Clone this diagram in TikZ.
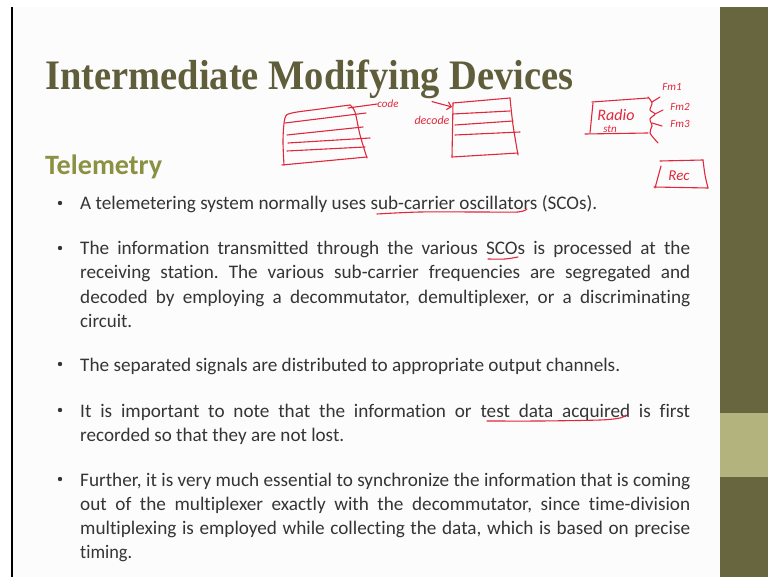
\documentclass[tikz,border=0pt]{standalone}
\usepackage{fontspec}
\usepackage{graphicx}
\setmainfont[RawFeature=-liga]{Carlito}
\newfontfamily\titlefont{Liberation Serif}
\usetikzlibrary{arrows.meta}

\definecolor{slidebg}{HTML}{FCFCFC}
\definecolor{olivedark}{HTML}{68663F}
\definecolor{olivelight}{HTML}{B3B47D}
\definecolor{titlecol}{HTML}{5F5D3A}
\definecolor{subcol}{HTML}{8A9142}
\definecolor{bodycol}{HTML}{353535}
\definecolor{ink}{HTML}{E0283C}

% one justified line of body text set to a given width:
% spaces are stretched when it is short, the line is condensed when it is long
\newsavebox\linebox
\newcommand\tline[2]{\sbox\linebox{#2}%
  \ifdim\wd\linebox>#1\relax\resizebox{#1}{\ht\linebox}{\usebox\linebox}%
  \else\makebox[#1][s]{#2}\fi}
% closing line of a paragraph: natural spacing, scaled to the given width
\newcommand\fline[2]{\sbox\linebox{#2}\resizebox{#1}{\ht\linebox}{\usebox\linebox}}

\tikzset{
  bodyline/.style={anchor=base west, inner sep=0pt, text=bodycol, yshift=-2pt,
    font=\frenchspacing\fontsize{19.2}{24}\selectfont},
  bulletdot/.style={fill=bodycol},
  pen/.style={draw=ink, line width=1.1pt, line cap=round, line join=round},
  scrawl/.style={text=ink, inner sep=0pt, font=\itshape\fontsize{11}{11}\selectfont},
}

\begin{document}
\begin{tikzpicture}[x=1pt,y=-1pt]
\useasboundingbox (0,0) rectangle (768,577);
\fill[white] (0,0) rectangle (768,577);
\fill[slidebg] (12,7) rectangle (720,577);
% side bar
\fill[olivedark] (720,7) rectangle (768,577);
\fill[olivelight] (720,413) rectangle (768,477);
\draw[black, line width=1.5pt] (12,7) -- (12,577);

% headings
\node[anchor=base west, inner sep=0pt, text=titlecol] (title) at (45,90)
  {\resizebox{528pt}{\height}{\titlefont\bfseries\fontsize{42}{42}\selectfont Intermediate Modifying Devices}};
\node[anchor=base west, inner sep=0pt, text=subcol] (sub) at (45,175)
  {\resizebox{117pt}{\height}{\bfseries\fontsize{28}{28}\selectfont Telemetry}};

% bullets
\foreach \y in {210,255,371,417,486} \fill[bulletdot] (60,\y-7) circle (2.2);

\node[bodyline] (b1) at (80,208) {\fline{517pt}{A telemetering system normally uses sub-carrier oscillators (SCOs).}};

\node[bodyline] (b2a) at (80,253) {\tline{610pt}{The information transmitted through the various SCOs is processed at the}};
\node[bodyline] (b2b) at (80,277) {\tline{610pt}{receiving station. The various sub-carrier frequencies are segregated and}};
\node[bodyline] (b2c) at (80,301) {\tline{610pt}{decoded by employing a decommutator, demultiplexer, or a discriminating}};
\node[bodyline] (b2d) at (80,325) {\fline{52pt}{circuit.}};

\node[bodyline] (b3) at (80,369) {\fline{540pt}{The separated signals are distributed to appropriate output channels.}};

\node[bodyline] (b4a) at (80,415) {\tline{610pt}{It is important to note that the information or test data acquired is first}};
\node[bodyline] (b4b) at (80,439) {\fline{264pt}{recorded so that they are not lost.}};

\node[bodyline] (b5a) at (80,484) {\tline{610pt}{Further, it is very much essential to synchronize the information that is coming}};
\node[bodyline] (b5b) at (80,508) {\tline{610pt}{out of the multiplexer exactly with the decommutator, since time-division}};
\node[bodyline] (b5c) at (80,532) {\tline{610pt}{multiplexing is employed while collecting the data, which is based on precise}};
\node[bodyline] (b5d) at (80,556) {\fline{52pt}{timing.}};

% ---- pen notes ----
% underlines
\draw[pen] plot[smooth] coordinates {(377,214) (420,212) (480,212) (518,212) (527,209)};
\draw[pen] plot[smooth] coordinates {(488,259) (505,259) (518,257)};
\draw[pen] plot[smooth] coordinates {(487,421) (540,421) (600,420) (620,418) (626,415)};

% coder frame
\draw[pen] plot[smooth] coordinates {(284,165) (283,140) (285,118) (292,113) (320,109) (350,105)};
\draw[pen] plot[smooth] coordinates {(350,105) (355,112) (360,135) (367,158)};
\draw[pen] (282,165) -- (367,157);
\draw[pen] (285,123) -- (366,113);
\draw[pen] (287,135) -- (363,127);
\draw[pen] (288,143) -- (370,138);
\draw[pen] (287,151) -- (365,147);
\coordinate (codetail) at (348,108);
\node[scrawl] (code) at (388,104) {code};
\draw[pen] (codetail) -- (code.west);

% decoder frame
\draw[pen] (453,103) -- (510,98);
\draw[pen] plot[smooth] coordinates {(510,98) (513,125) (518,155)};
\draw[pen] (452,157) -- (518,153);
\draw[pen] (453,103) -- (452,157);
\draw[pen] (453,114) -- (510,111);
\draw[pen] (455,125) -- (513,121);
\draw[pen] (455,135) -- (520,132);
\node[scrawl, font=\itshape\fontsize{12}{12}\selectfont] (decode) at (432,120) {decode};
\coordinate (decin) at (452,107);
\draw[pen, -{Straight Barb[length=4pt]}] (decode.north) ++(0,-14) -- (decin);

% radio station with its channels
\draw[pen] (592,102) -- (648,98);
\draw[pen] (593,103) -- (590,133);
\draw[pen] (585,134) -- (648,133);
\draw[pen] plot[smooth] coordinates {(648,97) (652,103) (650,110) (655,114) (650,119) (652,126) (650,133) (658,143)};
\draw[pen] (652,102) -- (660,97);
\draw[pen] (655,114) -- (663,110);
\draw[pen] (652,123) -- (662,126);
\node[scrawl, font=\itshape\fontsize{16}{16}\selectfont] (radio) at (616,115) {Radio};
\node[scrawl, font=\itshape\fontsize{11}{11}\selectfont] (stn) at (610,129) {stn};
\node[scrawl, font=\itshape\fontsize{11}{11}\selectfont] (fm1) at (672,87) {Fm1};
\node[scrawl, font=\itshape\fontsize{11}{11}\selectfont] (fm2) at (680,107) {Fm2};
\node[scrawl, font=\itshape\fontsize{11}{11}\selectfont] (fm3) at (680,124) {Fm3};

% recorder
\draw[pen] (660,161) -- (703,160);
\draw[pen] plot[smooth] coordinates {(703,160) (705,175) (708,188)};
\draw[pen] (654,187) -- (708,188);
\draw[pen] (661,166) -- (655,188);
\node[scrawl, font=\itshape\fontsize{15}{15}\selectfont] (rec) at (679,176) {Rec};
\end{tikzpicture}
\end{document}
